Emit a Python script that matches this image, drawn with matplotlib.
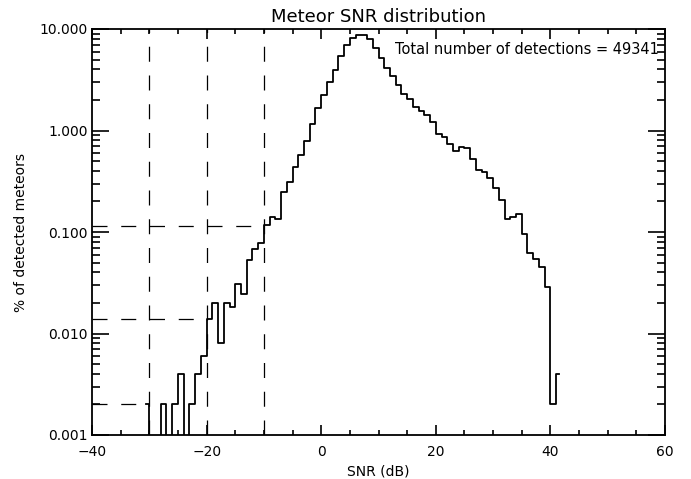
import numpy as np
import matplotlib
matplotlib.use("Agg")
import matplotlib.pyplot as plt
from matplotlib.ticker import MultipleLocator, LogLocator, NullFormatter

# histogram of meteor SNR, 1 dB bins, centres from -30.5 to 41.5 dB
snr_centres = np.arange(-30.5, 42.0, 1.0)
pct = [0.002, 0.0, 0.0, 0.002, 0.0, 0.002, 0.004, 0.0, 0.002, 0.004,
       0.006, 0.0139, 0.0202, 0.0081, 0.0202, 0.0184, 0.0304, 0.0244, 0.053, 0.068,
       0.078, 0.116, 0.139, 0.135, 0.245, 0.308, 0.436, 0.573, 0.78, 1.17,
       1.67, 2.24, 2.98, 3.98, 5.38, 6.97, 8.17, 8.81, 8.81, 7.98,
       6.51, 5.19, 4.13, 3.42, 2.83, 2.28, 2.04, 1.69, 1.56, 1.42,
       1.22, 0.917, 0.863, 0.741, 0.632, 0.688, 0.672, 0.524, 0.404, 0.390,
       0.340, 0.271, 0.208, 0.135, 0.140, 0.151, 0.096, 0.0628, 0.0544, 0.0447,
       0.0284, 0.002, 0.004]

# threshold markers (dB) and the % level at each
thr_snr = [-30, -20, -10]
thr_pct = [0.002, 0.0139, 0.115]

n_total = 49341

pct = np.array(pct)
pct_plot = np.where(pct > 0, pct, 1e-6)  # zero bins drop off the bottom

plt.rcParams['font.family'] = 'DejaVu Sans'
fig = plt.figure(figsize=(6.91, 4.79), dpi=100)
ax = fig.add_axes([92/691, 44/479, 573/691, 406/479])

ax.plot(snr_centres[:len(pct)], pct_plot, drawstyle='steps-mid', color='black', lw=1.3)

for xs, ys in zip(thr_snr, thr_pct):
    ax.axvline(xs, color='black', lw=0.9, dashes=(12, 11))
    ax.plot([-40, xs], [ys, ys], color='black', lw=0.9, dashes=(12, 11))

ax.set_yscale('log')
ax.set_xlim(-40, 60)
ax.set_ylim(0.001, 10)

ax.xaxis.set_major_locator(MultipleLocator(20))
ax.xaxis.set_minor_locator(MultipleLocator(5))
ax.yaxis.set_minor_locator(LogLocator(base=10, subs=np.arange(2, 10)))
ax.yaxis.set_minor_formatter(NullFormatter())
ax.set_yticks([0.001, 0.01, 0.1, 1, 10])
ax.set_yticklabels(['0.001', '0.010', '0.100', '1.000', '10.000'])

ax.tick_params(which='both', direction='in', top=True, right=True, labelsize=10, width=1.2)
ax.tick_params(axis='x', which='major', length=7, pad=7)
ax.tick_params(axis='x', which='minor', length=3.5)
ax.tick_params(axis='y', which='major', length=12, pad=3)
ax.tick_params(axis='y', which='minor', length=6)
for s in ax.spines.values():
    s.set_linewidth(1.3)

ax.set_title('Meteor SNR distribution', fontsize=13, pad=5)
ax.set_xlabel('SNR (dB)', fontsize=10)
ax.set_ylabel('% of detected meteors', fontsize=10, labelpad=8)
ax.text(0.99, 0.95, 'Total number of detections = %d' % n_total,
        transform=ax.transAxes, ha='right', va='center', fontsize=10.5)

plt.savefig('out.png', dpi=100)
